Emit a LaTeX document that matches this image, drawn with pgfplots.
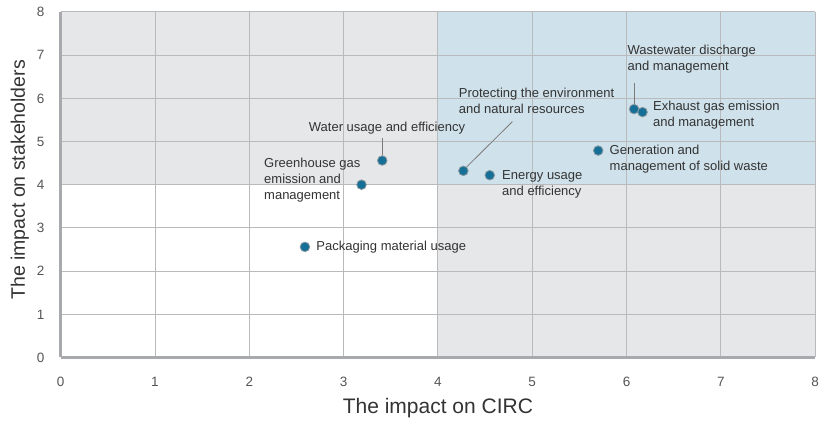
\documentclass[border=0pt]{standalone}
\usepackage{pgfplots}
\usepackage{pgfplotstable}
\pgfplotsset{compat=1.18}
\usepackage{fontspec}
\setmainfont{Liberation Sans}
\definecolor{bggray}{HTML}{E6E7E8}
\definecolor{qblue}{HTML}{CFE1EA}
\definecolor{gridgray}{HTML}{B9BABC}
\definecolor{axgray}{HTML}{A7A9AC}
\definecolor{ptblue}{HTML}{166F96}
\definecolor{ptedge}{HTML}{8A98A0}
\definecolor{txt}{HTML}{333333}
\definecolor{ticktxt}{HTML}{555555}
\definecolor{leader}{HTML}{7A7A7A}
\pgfplotstableread{
x y
2.59 2.56
3.19 4.00
3.41 4.56
4.27 4.32
4.55 4.22
5.70 4.79
6.08 5.75
6.17 5.68
}\pts
\begin{document}
\begin{tikzpicture}
\begin{axis}[
  set layers,
  x=94.3pt, y=43.2pt,
  xmin=0, xmax=8, ymin=0, ymax=8,
  xtick={0,...,8}, ytick={0,...,8},
  grid=major,
  major grid style={gridgray, line width=0.9pt},
  major tick length=0pt,
  axis x line*=bottom, axis y line*=left,
  axis line style={-, axgray, line width=3pt},
  axis background/.style={fill=bggray},
  /pgf/number format/assume math mode=true,
  ticklabel style={font=\fontsize{13.5}{16}\selectfont, text=ticktxt, inner sep=0pt},
  xticklabel style={anchor=base, yshift=-28.8pt},
  yticklabel style={anchor=base east, xshift=-16.2pt, yshift=-4.8pt},
  xlabel={The impact on CIRC},
  ylabel={The impact on stakeholders},
  xlabel style={font=\fontsize{21}{24}\selectfont, text=txt, at={(axis cs:4,0)}, anchor=base, yshift=-56.5pt, inner sep=0pt},
  ylabel style={font=\fontsize{19.5}{22}\selectfont, text=txt, at={(axis cs:0,4.11)}, anchor=base, yshift=35.7pt, inner sep=0pt},
  clip=false,
]
\begin{pgfonlayer}{axis background}
  \fill[white] (axis cs:0,0) rectangle (axis cs:4,4);
  \fill[qblue] (axis cs:4,4) rectangle (axis cs:8,8);
\end{pgfonlayer}
\coordinate (O) at (axis cs:0,0);
% leader lines
\draw[leader, line width=0.8pt] (axis cs:6.08,6.36) -- (axis cs:6.08,5.87);
\draw[leader, line width=0.8pt] (axis cs:4.79,5.46) -- (axis cs:4.30,4.40);
\draw[leader, line width=0.8pt] (axis cs:3.41,5.07) -- (axis cs:3.41,4.68);
\addplot[only marks, mark=*, mark size=4.8pt, mark options={fill=ptblue, draw=ptedge, line width=0.8pt}] table[x=x, y=y] {\pts};
\tikzset{ann/.style={font=\fontsize{13}{16}\selectfont, text=txt, align=left, inner sep=0pt}}
\node[ann, anchor=west] at (axis cs:6.01,6.91) {Wastewater discharge\\and management};
\node[ann, anchor=west] at (axis cs:4.22,5.95) {Protecting the environment\\and natural resources};
\node[ann, anchor=center] at (axis cs:3.46,5.31) {Water usage and efficiency};
\node[ann, anchor=west] at (axis cs:2.156,4.11) {Greenhouse gas\\emission and\\management};
\node[ann, anchor=west] at (axis cs:2.71,2.55) {Packaging material usage};
\node[ann, anchor=west] at (axis cs:4.68,4.00) {Energy usage\\and efficiency};
\node[ann, anchor=west] at (axis cs:5.82,4.59) {Generation and\\management of solid waste};
\node[ann, anchor=west] at (axis cs:6.28,5.60) {Exhaust gas emission\\and management};
\end{axis}
\pgfresetboundingbox
\path[use as bounding box] ([shift={(-60.7pt,-64.5pt)}]O) rectangle ([shift={(760.3pt,357.5pt)}]O);
\end{tikzpicture}
\end{document}
